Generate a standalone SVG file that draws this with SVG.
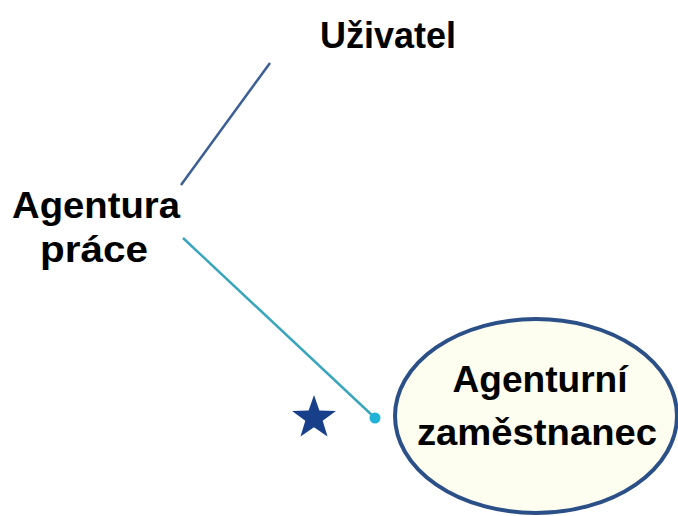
<svg xmlns="http://www.w3.org/2000/svg" width="678" height="516" viewBox="0 0 678 516">
<style>
.t{font-family:"Liberation Sans",Arial,sans-serif;font-weight:bold;font-size:37px;fill:#000;text-anchor:middle}
</style>
<rect width="678" height="516" fill="#fff"/>
<g id="connectors">
<line x1="270" y1="63" x2="181" y2="185" stroke="#3b5f95" stroke-width="2.5"/>
<line x1="183" y1="238" x2="375" y2="418" stroke="#3aa6bd" stroke-width="2.5"/>
<circle cx="375" cy="418" r="5.5" fill="#1fb3d8"/>
</g>
<g id="star">
<polygon points="314,395 319.4,410.6 335.9,410.9 322.7,420.8 327.5,436.6 314,427.2 300.5,436.6 305.3,420.8 292.1,410.9 308.6,410.6" fill="#173f8a"/>
</g>
<g id="uzivatel">
<text class="t" x="388" y="48" textLength="136" lengthAdjust="spacingAndGlyphs">Uživatel</text>
</g>
<g id="agentura">
<text class="t" x="96" y="218" textLength="168" lengthAdjust="spacingAndGlyphs">Agentura</text>
<text class="t" x="94" y="262" textLength="108" lengthAdjust="spacingAndGlyphs">práce</text>
</g>
<g id="zamestnanec">
<ellipse cx="536" cy="416" rx="141" ry="97" fill="#fdfdf0" stroke="#2b4f87" stroke-width="4"/>
<text class="t" x="540" y="392" textLength="175" lengthAdjust="spacingAndGlyphs">Agenturní</text>
<text class="t" x="537" y="445" textLength="240" lengthAdjust="spacingAndGlyphs">zaměstnanec</text>
</g>
</svg>
